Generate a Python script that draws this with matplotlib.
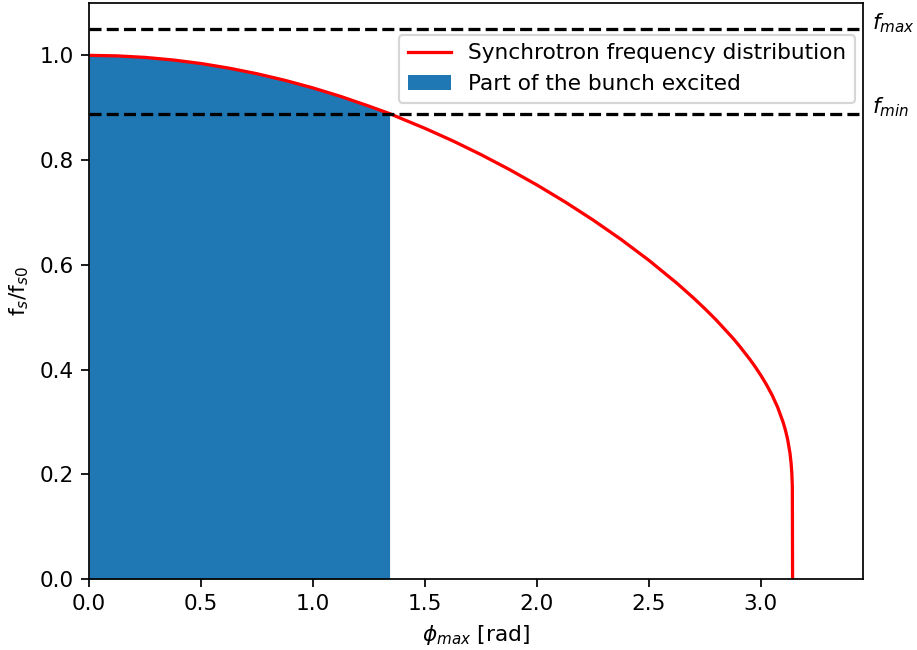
import matplotlib
matplotlib.use("Agg")
import matplotlib.pyplot as plt

# synchrotron frequency vs oscillation amplitude
phi_max = [0.0, 0.125, 0.25, 0.375, 0.5, 0.625, 0.75, 0.875, 1.0, 1.125, 1.25,
           1.342, 1.375, 1.5, 1.625, 1.75, 1.875, 2.0, 2.125, 2.25, 2.375, 2.5,
           2.625, 2.7, 2.75, 2.8, 2.875, 2.9, 2.95, 2.975, 3.0, 3.025, 3.05,
           3.075, 3.1, 3.11, 3.12, 3.13, 3.135, 3.138, 3.1405, 3.1416]
fs_ratio = [1.0, 0.9990, 0.9961, 0.9912, 0.9844, 0.9756, 0.9649, 0.9523, 0.9378,
            0.9214, 0.9030, 0.8888, 0.8828, 0.8606, 0.8366, 0.8105, 0.7825,
            0.7525, 0.7203, 0.6858, 0.6487, 0.6086, 0.5649, 0.5364, 0.5162,
            0.4949, 0.4600, 0.4473, 0.4200, 0.4051, 0.3889, 0.3712, 0.3513,
            0.3279, 0.2986, 0.2838, 0.2656, 0.2403, 0.2212, 0.2038, 0.1765, 0.0]

# excited part of the bunch
phi_exc = 1.342
f_max = 1.05
f_min = 0.8888

exc_phi = [p for p in phi_max if p <= phi_exc]
exc_fs = fs_ratio[:len(exc_phi)]

dpi = 156
fig = plt.figure(figsize=(917 / dpi, 650 / dpi), dpi=dpi)
ax = fig.add_axes([0.0971, 0.1092, 0.8440, 0.8862])

fill = ax.fill_between(exc_phi, 0, exc_fs, color="#1f77b4", linewidth=0,
                       label="Part of the bunch excited")
line, = ax.plot(phi_max, fs_ratio, color="red", lw=1.5,
                label="Synchrotron frequency distribution")
ax.axhline(f_max, color="black", ls="--", lw=1.5)
ax.axhline(f_min, color="black", ls="--", lw=1.5)

trans = ax.get_yaxis_transform()
ax.text(1.012, f_max + 0.012, r"$f_{max}$", transform=trans, va="center",
        ha="left")
ax.text(1.012, f_min + 0.012, r"$f_{min}$", transform=trans, va="center",
        ha="left")

ax.set_xlim(0, 3.456)
ax.set_ylim(0, 1.1)
ax.set_xlabel(r"$\phi_{max}$ [rad]")
ax.set_ylabel(r"f$_s$/f$_{s0}$")
ax.legend(handles=[line, fill], loc="upper right",
          bbox_to_anchor=(0.99, 0.945), borderaxespad=0)

fig.savefig("out.png", dpi=dpi)
